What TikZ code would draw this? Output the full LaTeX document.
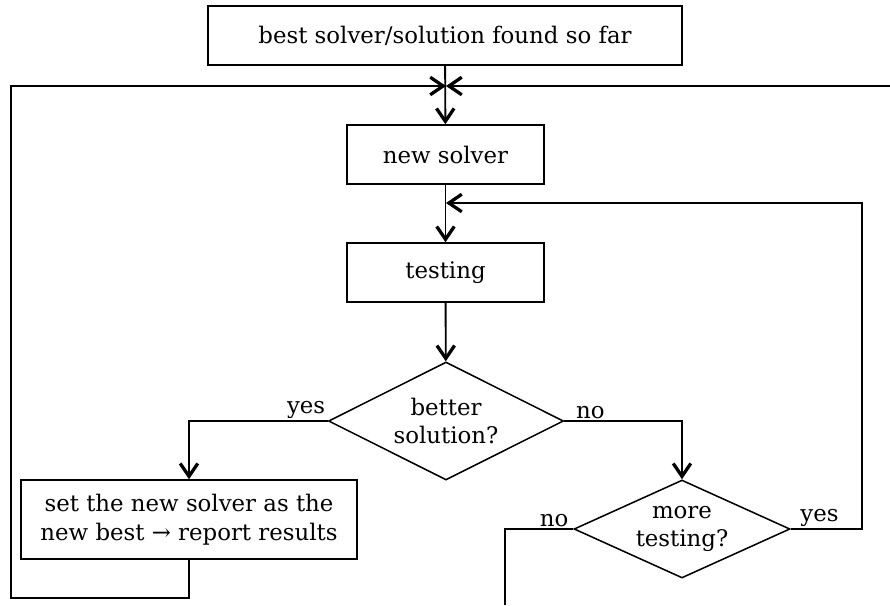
\documentclass[tikz,border=0pt]{standalone}
\usepackage{fontspec}
\setmainfont{DejaVu Serif}
\usetikzlibrary{shapes.geometric,arrows.meta}

\begin{document}
\begin{tikzpicture}[x=0.03cm,y=-0.03cm,
    flow/.style={line width=1.6pt},
    tip/.style={-{Straight Barb[length=11pt,width=15pt,line width=2.8pt]}},
    box/.style={draw,line width=1.3pt,rectangle,inner sep=0pt},
    test/.style={draw,line width=1.3pt,diamond,inner sep=0pt,aspect=2},
    word/.style={font=\fontsize{19.5}{24.5}\selectfont}]
    \def\px{0.03cm}
    \useasboundingbox (0,0) rectangle (890,605);
    \node[box,word,minimum width={474*\px},minimum height={59*\px}] (best) at (445,35.5) {best solver/solution found so far};
    \node[box,word,minimum width={197*\px},minimum height={59*\px}] (new) at (445.5,154.5) {new solver};
    \node[box,word,minimum width={197*\px},minimum height={59*\px}] (testing) at (445.5,272.5) {testing};
    \node[test,word,align=center,minimum width={235*\px},minimum height={118*\px}] (better) at (446,421) {better\\solution?};
    \node[box,word,align=center,minimum width={336*\px},minimum height={79*\px}] (set) at (189,519.5) {set the new solver as the\\new best → report results};
    \node[test,word,align=center,minimum width={216*\px},minimum height={98*\px}] (more) at (682,529) {more\\testing?};
    % labels
    \node[word,anchor=south east,inner sep=2pt] (yesA) at (better.west) {yes};
    \node[word,anchor=south west,inner sep=2pt] (noA) at ([xshift=8]better.east) {no};
    \node[word,anchor=south east,inner sep=2pt] (noB) at ([xshift=-2]more.west) {no};
    \node[word,anchor=south west,inner sep=2pt] (yesB) at ([xshift=6]more.east) {yes};
    \coordinate (jn) at (446,86);
    \coordinate (lb) at (11,598);
    \coordinate (rt) at (890,86);
    \coordinate (rc) at (862,203);
    \coordinate (ret) at (446,203);
    \coordinate (exit) at (505,605);
    \draw[flow,tip] (best) -- (new);
    \draw[flow,tip] (new) -- (testing);
    \draw[flow,tip] (testing) -- (better);
    \draw[flow,tip] (better.west) -| (set.north);
    \draw[flow,tip] (better.east) -| (more.north);
    \draw[flow,tip] (more.east) -| (rc) -- (ret);
    \draw[flow] (more.west) -| (exit);
    \draw[flow,tip] (set.south) |- (lb) |- (jn);
    \draw[flow,tip] (rt) -- (jn);
\end{tikzpicture}
\end{document}
